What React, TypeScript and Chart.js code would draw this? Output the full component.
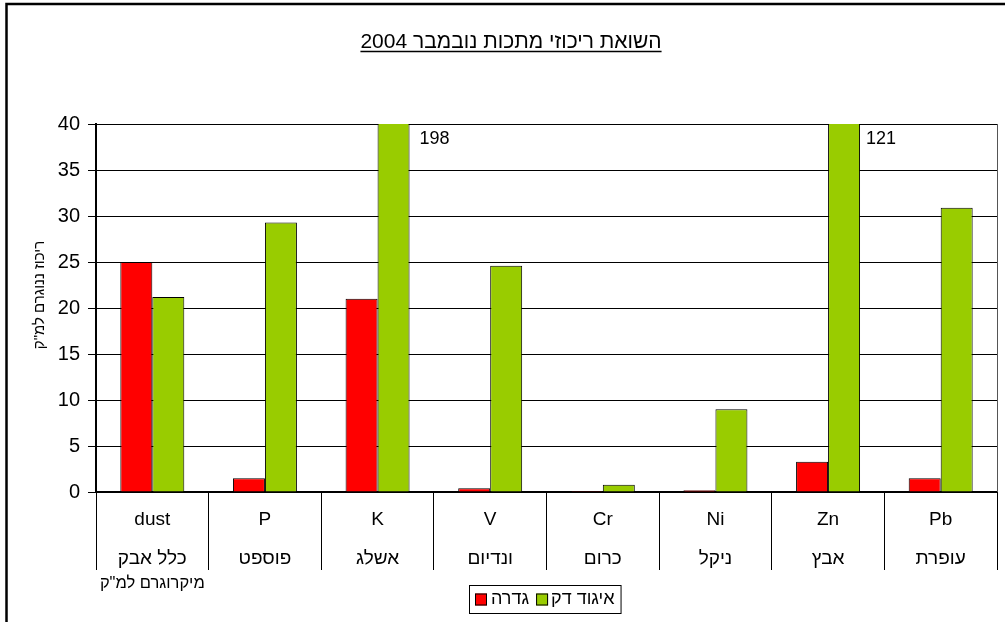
import React, { useEffect, useRef } from 'react';
import { Chart, registerables } from 'chart.js';

Chart.register(...registerables);

// ---- data ----
const symbols = ['dust', 'P', 'K', 'V', 'Cr', 'Ni', 'Zn', 'Pb'];
const hebrewNames = ['כלל אבק', 'פוספט', 'אשלג', 'ונדיום', 'כרום', 'ניקל', 'אבץ', 'עופרת'];
const gederaValues = [25, 1.5, 21, 0.4, 0.1, 0.2, 3.3, 1.5];
const igudValues = [21.2, 29.3, 198, 24.6, 0.8, 9.0, 121, 30.9];
const seriesNames = ['גדרה', 'איגוד דק'];
const seriesColors = ['#FF0000', '#99CC00'];
const yMin = 0;
const yMax = 40;
const yStep = 5;
const titleText = 'השואת ריכוזי מתכות נובמבר 2004';
const yAxisTitle = 'ריכוז ננוגרם למ"ק';
const dustUnit = 'מיקרוגרם למ"ק';

const FONT = '"Liberation Sans", Arial, sans-serif';

const decorPlugin = {
  id: 'decor',
  afterDraw(chart: any) {
    const ctx = chart.ctx;
    const area = chart.chartArea;
    const xs = chart.scales.x;
    ctx.save();

    // outer frame
    ctx.strokeStyle = '#000';
    ctx.lineWidth = 2.5;
    ctx.beginPath();
    ctx.moveTo(6.5, 640);
    ctx.lineTo(6.5, 4);
    ctx.lineTo(1020, 4);
    ctx.stroke();

    // right border of plot area
    ctx.strokeStyle = '#555';
    ctx.lineWidth = 1;
    ctx.beginPath();
    ctx.moveTo(area.right + 0.5, area.top);
    ctx.lineTo(area.right + 0.5, area.bottom);
    ctx.stroke();

    // title
    ctx.fillStyle = '#000';
    ctx.font = `21px ${FONT}`;
    ctx.textAlign = 'center';
    ctx.textBaseline = 'alphabetic';
    const tx = 511;
    const ty = 48;
    ctx.fillText(titleText, tx, ty);
    const tw = ctx.measureText(titleText).width;
    ctx.lineWidth = 1.5;
    ctx.strokeStyle = '#000';
    ctx.beginPath();
    ctx.moveTo(tx - tw / 2, ty + 3.5);
    ctx.lineTo(tx + tw / 2, ty + 3.5);
    ctx.stroke();

    // y axis title
    ctx.save();
    ctx.translate(40, 295);
    ctx.rotate(-Math.PI / 2);
    ctx.font = `15px ${FONT}`;
    ctx.textAlign = 'center';
    ctx.textBaseline = 'middle';
    ctx.fillText(yAxisTitle, 0, 0);
    ctx.restore();

    // labels for clipped bars
    const meta = chart.getDatasetMeta(1);
    ctx.font = `18px ${FONT}`;
    ctx.textAlign = 'left';
    ctx.textBaseline = 'middle';
    igudValues.forEach((v, i) => {
      if (v > yMax) {
        const bar: any = meta.data[i];
        const gap = i === 2 ? 10 : 6;
        ctx.fillText(String(v), bar.x + bar.width / 2 + gap, area.top + 15);
      }
    });

    // dust unit note
    ctx.font = `16.5px ${FONT}`;
    ctx.textAlign = 'center';
    ctx.fillText(dustUnit, xs.getPixelForValue(0), 583);

    // legend
    ctx.font = `18px ${FONT}`;
    const w0 = ctx.measureText(seriesNames[0]).width;
    const w1 = ctx.measureText(seriesNames[1]).width;
    const sq = 12;
    const pad = 6;
    const totalW = pad + sq + 4 + w0 + 7 + sq + 3 + w1 + pad;
    const lx = Math.round(545 - totalW / 2);
    const ly = 585;
    const lh = 28;
    ctx.fillStyle = '#fff';
    ctx.fillRect(lx, ly, totalW, lh);
    ctx.strokeStyle = '#000';
    ctx.lineWidth = 1;
    ctx.strokeRect(lx + 0.5, ly + 0.5, totalW, lh);
    const cy = ly + lh / 2 + 0.5;
    let cx = lx + pad;
    const drawSq = (color: string) => {
      ctx.fillStyle = color;
      ctx.fillRect(cx, cy - sq / 2, sq, sq);
      ctx.strokeStyle = '#000';
      ctx.strokeRect(cx + 0.5, cy - sq / 2 + 0.5, sq - 1, sq - 1);
    };
    drawSq(seriesColors[0]);
    cx += sq + 4;
    ctx.fillStyle = '#000';
    ctx.textAlign = 'left';
    ctx.textBaseline = 'middle';
    ctx.fillText(seriesNames[0], cx, cy);
    cx += w0 + 7;
    drawSq(seriesColors[1]);
    cx += sq + 3;
    ctx.fillStyle = '#000';
    ctx.fillText(seriesNames[1], cx, cy);

    ctx.restore();
  },
};

export default function App() {
  const canvasRef = useRef<HTMLCanvasElement | null>(null);

  useEffect(() => {
    if (!canvasRef.current) return;
    const chart = new Chart(canvasRef.current, {
      type: 'bar',
      data: {
        labels: symbols.map((s, i) => [s, hebrewNames[i]]),
        datasets: [
          {
            label: seriesNames[0],
            data: gederaValues,
            backgroundColor: seriesColors[0],
            borderColor: '#000',
            borderWidth: 1,
            categoryPercentage: 0.568,
            barPercentage: 1,
          },
          {
            label: seriesNames[1],
            data: igudValues,
            backgroundColor: seriesColors[1],
            borderColor: '#000',
            borderWidth: 1,
            categoryPercentage: 0.568,
            barPercentage: 1,
          },
        ],
      },
      options: {
        animation: false,
        responsive: false,
        devicePixelRatio: 1,
        layout: { padding: { left: 0, top: 124, right: 8, bottom: 0 } },
        plugins: {
          legend: { display: false },
          title: { display: false },
          tooltip: { enabled: false },
        },
        scales: {
          x: {
            offset: true,
            grid: {
              offset: true,
              drawOnChartArea: false,
              tickLength: 78,
              color: '#000',
              lineWidth: 1,
            },
            border: { color: '#000', width: 2 },
            ticks: {
              color: '#000',
              font: { family: FONT, size: 19, lineHeight: '39px' },
              padding: -70,
              maxRotation: 0,
              autoSkip: false,
            },
            afterFit: (s: any) => {
              s.height = 130;
            },
          },
          y: {
            min: yMin,
            max: yMax,
            ticks: {
              stepSize: yStep,
              color: '#000',
              font: { family: FONT, size: 20 },
              padding: 8,
            },
            grid: { color: '#000', lineWidth: 1, tickLength: 8 },
            border: { color: '#000', width: 2 },
            afterFit: (s: any) => {
              s.width = 96;
            },
          },
        },
      },
      plugins: [decorPlugin],
    });
    return () => chart.destroy();
  }, []);

  return (
    <div style={{ position: 'absolute', left: 0, top: 0, width: 1005, height: 622, background: '#fff' }}>
      <canvas ref={canvasRef} width={1005} height={622} style={{ display: 'block' }} />
    </div>
  );
}
